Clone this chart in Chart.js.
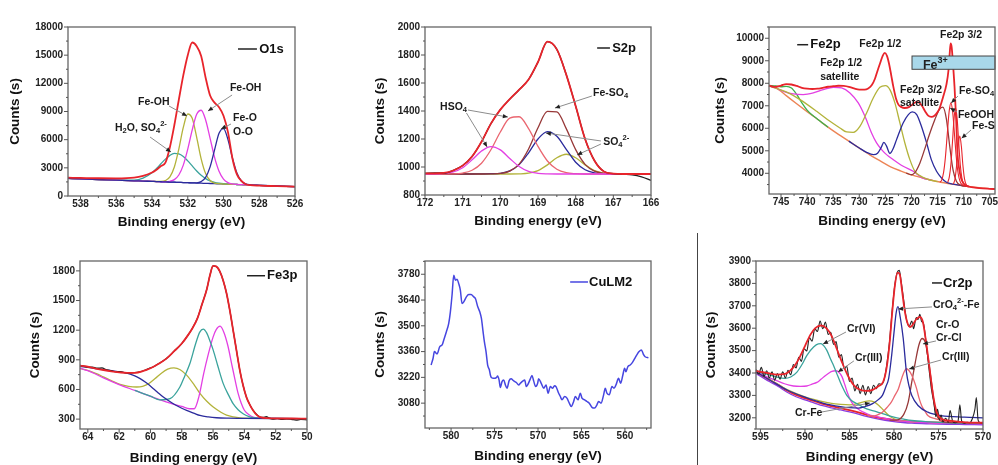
<!DOCTYPE html>
<html><head><meta charset="utf-8">
<script src="https://cdn.jsdelivr.net/npm/chart.js@4.4.1/dist/chart.umd.min.js"></script>
<style>
html,body{margin:0;padding:0;background:#fff}
body{width:998px;height:465px;overflow:hidden;position:relative}
canvas{position:absolute}
#divider{position:absolute;left:697px;top:233px;width:1px;height:232px;background:#444}
</style></head><body>
<canvas id="c1" width="330" height="232" style="left:0px;top:0px"></canvas>
<canvas id="c2" width="340" height="232" style="left:330px;top:0px"></canvas>
<canvas id="c3" width="350" height="232" style="left:660px;top:0px"></canvas>
<canvas id="c4" width="330" height="238" style="left:0px;top:232px"></canvas>
<canvas id="c5" width="340" height="238" style="left:330px;top:232px"></canvas>
<canvas id="c6" width="350" height="238" style="left:660px;top:232px"></canvas>
<div id="divider"></div>
<script>
// ---------------- DATA ----------------
// O1s (shared energy grid)
const o1sE = [538.7,538,537,536,535,534.5,534,533.75,533.5,533.25,533,532.75,532.5,532.25,532,531.75,531.5,531.25,531,530.75,530.5,530.25,530,529.75,529.5,529.25,529,528.75,528.5,528,527,526];
const o1sBase = [1880,1830,1760,1690,1620,1590,1555,1540,1520,1500,1485,1470,1450,1435,1415,1400,1380,1365,1345,1330,1310,1295,1275,1260,1240,1225,1210,1190,1175,1140,1070,1000];
const o1sH2O = [1880,1830,1760,1692,1700,1911,2482,2924,3432,3928,4326,4530,4484,4207,3746,3205,2667,2209,1856,1614,1456,1364,1305,1272,1240,1225,1210,1190,1175,1140,1070,1000];
const o1sFeOH1 = [1880,1830,1760,1690,1620,1590,1555,1545,1548,1644,2040,3083,4995,7303,8734,8275,6249,3962,2388,1648,1382,1308,1275,1260,1240,1225,1210,1190,1175,1140,1070,1000];
const o1sFeOH2 = [1880,1830,1760,1690,1620,1590,1555,1540,1520,1520,1563,1744,2234,3285,4987,7048,8696,9134,8102,6145,4121,2641,1803,1429,1285,1235,1210,1190,1175,1140,1070,1000];
const o1sFeO = [1880,1830,1760,1690,1620,1590,1555,1540,1520,1500,1485,1470,1450,1435,1415,1400,1400,1532,1984,3099,4912,6672,7175,6010,4051,2447,1600,1282,1191,1140,1070,1000];
const o1sFit = [1950,1925,1890,1880,1960,2150,2500,2800,3200,3550,5200,7560,10250,12850,15000,16350,15950,14900,12600,10700,9950,9450,8550,6800,4000,2300,1600,1250,1150,1100,1050,1000];
const o1sXTicks = [538,536,534,532,530,528,526];
const o1sYTicks = [0,3000,6000,9000,12000,15000,18000];

// S2p (shared energy grid)
const s2pE = [172,171.75,171.5,171.25,171,170.75,170.5,170.25,170,169.75,169.5,169.25,169,168.75,168.5,168.25,168,167.75,167.5,167.25,167,166.75,166.5,166.25,166];
const s2pHSO4a = [950,951,954,965,995,1051,1114,1146,1122,1061,1003,968,955,951,950,950,950,950,950,950,950,950,950,950,950];
const s2pHSO4b = [950,950,950,951,957,977,1027,1123,1250,1349,1359,1274,1147,1043,984,959,952,950,950,950,950,950,950,950,950];
const s2pFeSO4 = [950,950,950,950,950,950,950,951,954,971,1021,1129,1280,1397,1394,1274,1124,1019,970,954,950,950,950,950,950];
const s2pSO4a = [950,950,950,950,950,950,951,952,955,972,1017,1101,1200,1253,1219,1126,1034,980,958,952,950,950,950,950,950];
const s2pSO4b = [950,950,950,950,950,950,950,950,950,950,951,956,974,1015,1066,1091,1066,1015,974,956,951,950,950,950,950];
const s2pFit = [955,955,958,975,1010,1075,1180,1310,1410,1485,1552,1625,1750,1895,1840,1660,1435,1200,1045,968,953,950,950,950,950];
const s2pData = [955,958,957,976,1010,1075,1180,1310,1410,1485,1552,1625,1750,1895,1840,1660,1435,1200,1045,968,953,948,944,930,905];
const s2pXTicks = [172,171,170,169,168,167,166];
const s2pYTicks = [800,1000,1200,1400,1600,1800,2000];

// Fe2p [energy, counts]
const fe2pFit = [[747.3,7900],[746.2,7840],[745,7900],[744,7960],[743,7945],[742,7880],[741,7800],[740,7760],[739,7745],[738,7760],[737,7800],[736,7845],[735,7870],[734,7890],[733,7880],[732,7840],[731,7770],[730,7720],[729,7720],[728.3,7770],[727.6,7920],[727,8200],[726.5,8560],[726,8900],[725.5,9230],[725.1,9350],[724.7,9220],[724.3,8870],[723.9,8380],[723.5,7870],[723,7350],[722.5,7050],[722,6950],[721.3,6900],[720.5,6940],[719.8,7060],[719.2,7160],[718.6,7150],[718,7000],[717.4,6760],[716.8,6560],[716.2,6510],[715.6,6560],[715,6720],[714.6,6900],[714,7350],[713.3,7950],[712.9,8600],[712.7,9250],[712.5,9770],[712.3,9600],[712,8700],[711.76,7867],[711.44,6385],[711.19,4904],[710.9,4250],[710.5,3780],[710.1,3570],[709.5,3450],[708.5,3390],[707,3340],[705,3310],[704,3300]];
const fe2pBg = [[747.3,7900],[746,7810],[744,7450],[742,7090],[740,6740],[738,6400],[736,6050],[734,5730],[732,5430],[730,5120],[728,4820],[726,4550],[724,4290],[722,4100],[720,3930],[718,3800],[716,3680],[714,3590],[712,3510],[710,3440],[708,3380],[706,3340],[704,3300]];
const fe2pGreen = [[747.3,7900],[746,7880],[745,7845],[744,7865],[743,7790],[742,7505],[741,7130],[740,6810],[739,6585],[738,6405],[737,6225],[736,6050]];
const fe2pSat12 = [[747.3,7880],[746.15,7793],[744.55,7644],[742.64,7526],[740.73,7496],[738.81,7570],[736.9,7719],[734.98,7822],[733.39,7793],[731.79,7570],[730.2,7126],[728.92,6533],[727.65,5793],[726.69,5348],[725.73,5052],[724.78,4830],[723.5,4607],[721.59,4311],[719.67,4089],[718,3810],[716,3680]];
const fe2p12 = [[747.3,7880],[746.15,7793],[743.5,7560],[741.36,7274],[738.17,6756],[735.62,6311],[733.71,6015],[732.43,5837],[731.16,5822],[729.88,6089],[728.6,6681],[727.33,7348],[726.05,7822],[724.97,7896],[724.14,7719],[723.18,7126],[722.22,6237],[721.27,5348],[720.31,4607],[719.35,4089],[718.4,3896],[717,3745],[715,3630]];
const fe2pSat32 = [[732,5430],[730,5125],[728.6,4930],[727.3,4830],[726.5,4890],[725.8,5150],[725.3,5378],[724.8,5220],[724.14,4880],[723.5,5100],[722.86,5496],[722.2,5900],[721.6,6237],[720.6,6607],[719.86,6726],[719,6607],[718.1,6089],[717.1,5348],[716.2,4607],[715.2,4089],[714.25,3793],[713.3,3600],[712,3515],[710,3445]];
const fe2pBrown = [[721,4010],[720,3935],[719.4,4015],[718.4,4450],[717.5,5050],[716.6,5700],[715.5,6400],[714.7,6820],[714,6940],[713.3,6400],[712.67,5200],[712.04,4150],[711.4,3650],[710.7,3480],[709,3410]];
const fe2pFeSO4 = [[714.55,3600],[714.2,3710],[713.85,4040],[713.5,4720],[713.15,5730],[712.8,6720],[712.45,7130],[712.1,6700],[711.75,5690],[711.4,4670],[711.05,3980],[710.7,3640],[710.35,3500],[709,3410]];
const fe2pFeOOH = [[713.05,3600],[712.75,3840],[712.45,4400],[712.15,5380],[711.85,6420],[711.55,6900],[711.25,6420],[710.95,5360],[710.65,4370],[710.35,3800],[710.05,3560],[709,3410]];
const fe2pFeS = [[711.95,3530],[711.65,3770],[711.35,4370],[711.05,5210],[710.75,5650],[710.45,5210],[710.15,4360],[709.85,3760],[709.55,3510],[709,3410]];
const fe2pXTicks = [745,740,735,730,725,720,715,710,705];
const fe2pYTicks = [4000,5000,6000,7000,8000,9000,10000];

// Fe3p [energy, counts]
const fe3pFit = [[64.5,840],[64.17,835],[63.5,812],[63,797],[62.5,784],[62,774],[61.5,767],[61,768],[60.5,785],[60,815],[59.5,858],[59,910],[58.5,985],[58,1065],[57.6,1150],[57.3,1225],[57,1320],[56.7,1465],[56.4,1615],[56.2,1755],[56,1850],[55.8,1845],[55.57,1795],[55.35,1700],[55.14,1573],[54.93,1400],[54.72,1201],[54.5,990],[54.29,794],[54.08,640],[53.87,523],[53.65,445],[53.44,388],[53.2,340],[53,320],[52.5,310],[51,306],[50,304]];
const fe3pData = [[64.5,845],[64.3,838],[64,828],[63.7,826],[63.4,815],[63.1,818],[62.8,798],[62.5,790],[62.2,778],[61.9,782],[61.6,768],[61.3,766],[61,770],[60.7,778],[60.4,792],[60.1,812],[59.8,830],[59.5,860],[59,910],[58.5,985],[58,1065],[57.6,1150],[57.3,1225],[57,1320],[56.7,1465],[56.4,1615],[56.2,1755],[56,1850],[55.8,1845],[55.57,1795],[55.35,1700],[55.14,1573],[54.93,1400],[54.72,1201],[54.5,990],[54.29,794],[54.08,640],[53.87,523],[53.65,445],[53.44,388],[53.2,345],[53,322],[52.8,318],[52.6,325],[52.4,310],[52.2,300],[51.9,306],[51.6,296],[51.3,303],[51,298],[50.7,290],[50.4,296],[50,292]];
const fe3pBlue = [[64.5,833],[64.17,826],[63.5,812],[62.58,792],[62,778],[61.51,765],[61,738],[60.66,710],[60.2,660],[59.81,608],[59.5,565],[59.18,523],[58.54,456],[58,410],[57.69,388],[57.2,358],[56.84,337],[56.3,322],[55.78,314],[55,310],[54,308],[52,306],[50,305]];
const fe3pOlive = [[64.5,812],[64.17,800],[63.5,762],[63,727],[62.5,690],[61.94,652],[61.4,632],[60.88,625],[60.5,632],[60.1,660],[59.7,710],[59.3,765],[58.9,805],[58.5,818],[58.1,800],[57.69,745],[57.2,645],[56.84,560],[56.4,480],[55.99,422],[55.5,370],[55.14,340],[54.7,322],[54.29,313],[53,308],[50,305]];
const fe3pTeal = [[61,590],[60,532],[59.4,495],[58.75,507],[58.12,625],[57.8,740],[57.48,862],[57.1,1070],[56.85,1180],[56.63,1211],[56.4,1170],[56.2,1090],[55.99,998],[55.7,840],[55.35,659],[55,540],[54.72,456],[54.4,395],[54.08,354],[53.7,325],[53.44,314],[53,310],[50,305]];
const fe3pMagenta = [[64.5,815],[64,790],[63,718],[62,650],[61,590],[60,530],[59,475],[58.5,450],[58,428],[57.5,405],[57.2,405],[56.9,530],[56.6,760],[56.3,960],[56,1130],[55.8,1205],[55.55,1240],[55.3,1175],[55.05,1040],[54.8,850],[54.6,700],[54.4,560],[54.2,460],[54,390],[53.7,345],[53.44,320],[53,310],[50,305]];
const fe3pXTicks = [64,62,60,58,56,54,52,50];
const fe3pYTicks = [300,600,900,1200,1500,1800];

// CuLM2 [energy, counts]
const cuData = [[582.3,3287],[582.07,3324],[581.92,3360],[581.61,3347],[581.3,3387],[581.03,3396],[580.84,3423],[580.54,3468],[580.27,3513],[580.08,3576],[579.89,3666],[579.69,3775],[579.5,3747],[579.31,3753],[579.12,3729],[578.93,3693],[578.74,3621],[578.54,3630],[578.24,3657],[577.97,3670],[577.7,3670],[577.39,3657],[577.2,3648],[576.93,3603],[576.7,3576],[576.51,3540],[576.32,3468],[576.17,3414],[575.98,3360],[575.79,3287],[575.59,3260],[575.48,3233],[575.36,3219],[575.1,3215],[574.79,3219],[574.64,3228],[574.48,3206],[574.33,3165],[574.14,3197],[573.95,3206],[573.75,3179],[573.56,3161],[573.33,3201],[573.1,3212],[572.8,3201],[572.49,3192],[572.22,3179],[572.03,3188],[571.72,3201],[571.53,3206],[571.34,3170],[571.19,3179],[570.88,3212],[570.69,3230],[570.5,3201],[570.27,3170],[570.04,3188],[569.93,3212],[569.6,3185],[569.34,3161],[569.07,3179],[568.84,3134],[568.58,3170],[568.31,3161],[568.1,3175],[567.93,3170],[567.62,3134],[567.43,3116],[567.24,3098],[566.93,3116],[566.67,3107],[566.4,3080],[566.17,3062],[565.9,3089],[565.71,3116],[565.4,3098],[565.13,3134],[564.94,3107],[564.63,3098],[564.37,3089],[564.1,3080],[563.79,3057],[563.49,3053],[563.22,3071],[563.03,3089],[562.75,3080],[562.45,3125],[562.26,3161],[562.07,3134],[561.8,3125],[561.49,3170],[561.26,3161],[561.03,3179],[560.73,3215],[560.5,3188],[560.25,3230],[560.04,3269],[559.89,3251],[559.66,3278],[559.39,3287],[559.15,3300],[558.9,3320],[558.63,3342],[558.37,3360],[558.12,3369],[557.95,3355],[557.87,3345],[557.68,3332],[557.3,3327]];
const cuXTicks = [580,575,570,565,560];
const cuYTicks = [3080,3220,3360,3500,3640,3780];

// Cr2p [energy, counts]
const crData = [[595.5,3415],[595.2,3395],[594.9,3425],[594.6,3385],[594.3,3410],[594,3378],[593.7,3405],[593.4,3368],[593.1,3398],[592.8,3372],[592.5,3405],[592.2,3378],[591.9,3412],[591.6,3392],[591.3,3438],[591,3422],[590.7,3470],[590.4,3452],[590.1,3508],[589.8,3498],[589.5,3558],[589.2,3542],[588.9,3598],[588.6,3585],[588.3,3632],[588,3598],[587.7,3628],[587.4,3572],[587.1,3582],[586.8,3528],[586.5,3540],[586.2,3470],[585.9,3482],[585.6,3418],[585.3,3430],[585,3362],[584.7,3378],[584.4,3320],[584.1,3350],[583.8,3308],[583.5,3345],[583.2,3302],[582.9,3340],[582.6,3308],[582.3,3345],[582,3330],[581.7,3352],[581.4,3350],[581.1,3372],[580.8,3440],[580.5,3540],[580.2,3680],[579.9,3795],[579.6,3852],[579.4,3858],[579.2,3810],[578.9,3722],[578.6,3640],[578.3,3608],[578,3632],[577.8,3598],[577.5,3648],[577.3,3638],[577.1,3662],[576.9,3630],[576.7,3622],[576.4,3538],[576.1,3430],[575.8,3330],[575.5,3262],[575.3,3205],[575.1,3238],[574.9,3190],[574.7,3212],[574.5,3182],[574.2,3198],[573.9,3180],[573.7,3232],[573.4,3184],[573.1,3178],[572.8,3186],[572.6,3258],[572.4,3186],[572.1,3176],[571.8,3180],[571.5,3178],[571.2,3196],[570.9,3240],[570.75,3290],[570.55,3190],[570.3,3178],[570,3176]];
const crFit = [[595.5,3410],[595,3405],[594.25,3400],[593.13,3393],[592.4,3395],[592,3400],[591.3,3425],[590.6,3470],[590,3520],[589.4,3570],[588.84,3600],[588.2,3612],[587.6,3600],[587,3565],[586.4,3505],[585.86,3450],[585.2,3390],[584.5,3345],[583.8,3325],[583.1,3320],[582.4,3325],[581.8,3340],[581.2,3362],[580.8,3430],[580.5,3530],[580.2,3670],[579.9,3790],[579.6,3848],[579.35,3840],[579.1,3770],[578.8,3680],[578.5,3625],[578.2,3605],[577.9,3615],[577.5,3640],[577.1,3650],[576.75,3628],[576.4,3540],[576,3420],[575.6,3300],[575.2,3225],[574.7,3196],[573.5,3186],[572,3180],[570,3178]];
const crCrVI = [[595.5,3410],[595,3402],[594,3392],[593,3380],[592.3,3376],[591.6,3382],[590.9,3404],[590.3,3440],[589.78,3479],[589.03,3516],[588.5,3530],[588.2,3531],[587.9,3522],[587.54,3501],[587.1,3460],[586.79,3434],[586.4,3395],[586.04,3360],[585.6,3322],[585.3,3300],[584.7,3275],[584.18,3263],[583.5,3248],[583.06,3240],[582,3228],[581,3215],[580,3203],[579,3195],[578,3188],[576,3182],[574,3178],[570,3175]];
const crCrIIIa = [[595.5,3410],[595,3398],[594,3378],[593.1,3365],[592.3,3352],[591.3,3342],[590.5,3340],[589.8,3342],[589.2,3350],[588.66,3358],[588.2,3372],[587.72,3388],[587.3,3400],[586.98,3407],[586.6,3410],[586.23,3405],[585.86,3385],[585.5,3345],[585.3,3320],[584.9,3280],[584.55,3258],[584,3238],[583.43,3225],[582.7,3212],[582,3205],[581,3197],[580,3190],[578,3182],[576,3178],[573,3175],[570,3173]];
const crCrFe = [[595.5,3405],[594,3372],[592,3326],[590,3294],[588,3272],[587,3264],[586,3260],[585,3258],[584.2,3262],[583.5,3270],[582.8,3276],[582.2,3270],[581.7,3255],[581.2,3235],[580.7,3215],[580.2,3200],[579.6,3190],[579,3186],[578,3183],[576,3180],[572,3177],[570,3176]];
const crCrO4 = [[595.5,3405],[594,3370],[592,3324],[590,3292],[588,3266],[586,3250],[585,3245],[584,3243],[583.25,3250],[582.4,3263],[581.8,3280],[581.3,3300],[580.9,3340],[580.6,3375],[580.26,3479],[580,3580],[579.75,3670],[579.55,3696],[579.3,3650],[578.96,3554],[578.6,3404],[578.3,3340],[578,3300],[577.3,3255],[576.2,3225],[574.7,3210],[572.1,3203],[570,3200]];
const crCrIIIb = [[583,3212],[582.5,3208],[581.3,3225],[580.7,3250],[580.3,3270],[579.9,3300],[579.5,3330],[579.1,3380],[578.8,3410],[578.6,3419],[578.3,3410],[578,3390],[577.7,3360],[577.46,3330],[577.2,3290],[576.9,3255],[576.5,3228],[576.2,3210],[575.4,3196],[574,3185],[572,3180],[570,3178]];
const crCrO = [[580.5,3190],[579.7,3190],[578.9,3215],[578.4,3270],[578,3360],[577.6,3449],[577.2,3525],[576.85,3554],[576.5,3539],[576.1,3449],[575.7,3330],[575.4,3240],[575,3196],[574.2,3181],[572,3178],[570,3177]];
const crBg = [[595.5,3405],[594,3370],[593,3348],[592,3322],[591,3302],[590,3288],[589,3275],[588,3262],[587,3252],[586,3243],[585,3234],[584,3224],[583,3212],[582,3203],[581,3196],[580,3190],[579,3186],[578,3183],[576,3180],[574,3178],[572,3177],[570,3176]];
const crBg2 = [[595.5,3398],[594,3362],[593,3340],[592,3314],[591,3294],[590,3280],[589,3267],[588,3254],[587,3244],[586,3235],[585,3226],[584,3216],[583,3205],[582,3196],[581,3189],[580,3183],[579,3179],[578,3176],[576,3173],[574,3171],[572,3170],[570,3169]];
const crXTicks = [595,590,585,580,575,570];
const crYTicks = [3200,3300,3400,3500,3600,3700,3800,3900];

// ---------------- HELPERS ----------------
const FONT = '"Liberation Sans", Arial, Helvetica, sans-serif';
Chart.defaults.font.family = FONT;
const onGrid = (E, V) => E.map((e, i) => ({x: e, y: V[i]}));
const fromPairs = P => P.map(([x, y]) => ({x, y}));
function ds(data, color, w) {
  return {data, borderColor: color, borderWidth: w || 1.2, pointRadius: 0, fill: false,
          cubicInterpolationMode: 'monotone', clip: 1};
}
function minorsOf(major, min, max) {
  const lo = Math.min(min, max), hi = Math.max(min, max);
  const st = Math.abs(major[1] - major[0]) / 2;
  const start = Math.min(...major) - 2 * st, end = Math.max(...major) + 2 * st;
  const out = [];
  for (let v = start + st; v <= end; v += 2 * st) if (v >= lo && v <= hi) out.push(+v.toFixed(4));
  return out;
}
function rich(ctx, segs, x, y, size) {
  let cx = x;
  ctx.textBaseline = 'middle'; ctx.textAlign = 'left';
  for (const [s, m] of segs) {
    const fs = m ? size * 0.72 : size;
    ctx.font = 'bold ' + fs + 'px ' + FONT;
    const dy = m === -1 ? size * 0.32 : (m === 1 ? -size * 0.42 : 0);
    ctx.fillText(s, cx, y + dy);
    cx += ctx.measureText(s).width;
  }
}
function arrow(ctx, x1, y1, x2, y2) {
  ctx.strokeStyle = '#8c8c8c'; ctx.lineWidth = 1;
  ctx.beginPath(); ctx.moveTo(x1, y1); ctx.lineTo(x2, y2); ctx.stroke();
  const a = Math.atan2(y2 - y1, x2 - x1), L = 5, W = 2.2;
  ctx.fillStyle = '#222';
  ctx.beginPath(); ctx.moveTo(x2, y2);
  ctx.lineTo(x2 - L * Math.cos(a) + W * Math.sin(a), y2 - L * Math.sin(a) - W * Math.cos(a));
  ctx.lineTo(x2 - L * Math.cos(a) - W * Math.sin(a), y2 - L * Math.sin(a) + W * Math.cos(a));
  ctx.closePath(); ctx.fill();
}

const decor = {
  id: 'decor',
  afterDraw(chart, args, o) {
    const {ctx, chartArea: a} = chart;
    const xs = chart.scales.x, ys = chart.scales.y;
    const X = v => xs.getPixelForValue(v), Y = v => ys.getPixelForValue(v);
    ctx.save();
    (o.boxes || []).forEach(b => {
      const x1 = X(b.x1), x2 = Math.min(X(b.x2), a.right), y1 = Y(b.y1), y2 = Y(b.y2);
      ctx.fillStyle = '#a9d8ea'; ctx.fillRect(x1, y2, x2 - x1, y1 - y2);
      ctx.strokeStyle = '#444'; ctx.lineWidth = 1; ctx.strokeRect(x1, y2, x2 - x1, y1 - y2);
      ctx.fillStyle = '#222';
      rich(ctx, b.t, X(b.tx), Y(b.ty), 12.5);
    });
    ctx.strokeStyle = '#666'; ctx.lineWidth = 1.3;
    ctx.strokeRect(a.left, a.top, a.right - a.left, a.bottom - a.top);
    ctx.strokeStyle = '#555'; ctx.lineWidth = 1;
    ctx.beginPath();
    const tx = (list, len) => list.forEach(v => { const p = X(v); if (p < a.left - 0.5 || p > a.right + 0.5) return; ctx.moveTo(p, a.bottom); ctx.lineTo(p, a.bottom + len); });
    const ty = (list, len) => list.forEach(v => { const p = Y(v); if (p < a.top - 0.5 || p > a.bottom + 0.5) return; ctx.moveTo(a.left, p); ctx.lineTo(a.left - len, p); });
    tx(o.xMajor, 4); tx(minorsOf(o.xMajor, xs.min, xs.max), 2);
    ty(o.yMajor, 4); ty(minorsOf(o.yMajor, ys.min, ys.max), 2);
    ctx.stroke();
    if (o.legend) {
      const L = o.legend;
      ctx.strokeStyle = L.color; ctx.lineWidth = 1.5;
      ctx.beginPath(); ctx.moveTo(X(L.x1), Y(L.y)); ctx.lineTo(X(L.x2), Y(L.y)); ctx.stroke();
      ctx.fillStyle = '#111';
      rich(ctx, [[L.text, 0]], X(L.tx), Y(L.y), 13);
    }
    (o.arrows || []).forEach(r => arrow(ctx, X(r[0]), Y(r[1]), X(r[2]), Y(r[3])));
    ctx.fillStyle = '#1a1a1a';
    (o.labels || []).forEach(l => rich(ctx, l.t, X(l.x), Y(l.y), 10.5));
    ctx.restore();
  }
};

function makeChart(id, cfg) {
  const tickFont = {size: 10, weight: 'bold', lineHeight: 1};
  return new Chart(document.getElementById(id), {
    type: 'line',
    data: {datasets: cfg.datasets},
    options: {
      responsive: false, animation: false, events: [],
      layout: {padding: {top: cfg.padTop, right: cfg.padRight, left: 0, bottom: 0}},
      plugins: {legend: {display: false}, tooltip: {enabled: false}, decor: cfg.decor},
      scales: {
        x: {
          type: 'linear', reverse: true, min: cfg.xMin, max: cfg.xMax,
          afterFit: s => { s.height = cfg.xH; },
          afterBuildTicks: s => { s.ticks = cfg.decor.xMajor.map(v => ({value: v})); },
          ticks: {font: tickFont, color: '#222', padding: 3, maxRotation: 0, autoSkip: false, callback: v => String(v)},
          grid: {display: true, drawOnChartArea: false, drawTicks: false},
          border: {display: false},
          title: {display: true, text: 'Binding energy (eV)', color: '#111',
                  font: {size: 13.5, weight: 'bold', lineHeight: 1.2}, padding: {top: 0, bottom: cfg.xtPad}}
        },
        y: {
          type: 'linear', min: cfg.yMin, max: cfg.yMax,
          afterFit: s => { s.width = cfg.yW; },
          afterBuildTicks: s => { s.ticks = cfg.decor.yMajor.map(v => ({value: v})); },
          ticks: {font: tickFont, color: '#222', padding: 5, autoSkip: false, callback: v => String(v)},
          grid: {display: true, drawOnChartArea: false, drawTicks: false},
          border: {display: false},
          title: {display: true, text: 'Counts (s)', color: '#111',
                  font: {size: 13.5, weight: 'bold', lineHeight: 1.2}, padding: {top: cfg.ytPad, bottom: 0}}
        }
      }
    },
    plugins: [decor]
  });
}

const RED = '#e8242b', TEAL = '#3aa39c', OLIVE = '#b3b33a', MAG = '#e33fe3', NAVY = '#2b2b9c',
      SALMON = '#ea6670', BROWN = '#973838', ORANGE = '#ec8455', GREEN = '#3fb04a', PURPLE = '#8a3be0',
      CUBLUE = '#4646e0', BLACK = '#222';

makeChart('c1', {
  xMin: 526, xMax: 538.7, yMin: 0, yMax: 18000,
  padTop: 27, padRight: 35, yW: 68, xH: 36, xtPad: 1.9, ytPad: 6.9,
  datasets: [
    ds(onGrid(o1sE, o1sFit), RED, 1.8),
    ds(onGrid(o1sE, o1sFeO), NAVY, 1.3),
    ds(onGrid(o1sE, o1sFeOH2), MAG, 1.3),
    ds(onGrid(o1sE, o1sFeOH1), OLIVE, 1.3),
    ds(onGrid(o1sE, o1sH2O), TEAL, 1.3),
    ds(onGrid(o1sE, o1sBase), NAVY, 1.3)
  ],
  decor: {
    xMajor: o1sXTicks, yMajor: o1sYTicks,
    legend: {x1: 529.19, x2: 528.13, y: 15657, tx: 528.0, text: 'O1s', color: BLACK},
    labels: [
      {t: [['Fe-OH', 0]], x: 529.64, y: 11503},
      {t: [['Fe-OH', 0]], x: 534.78, y: 10012},
      {t: [['Fe-O', 0]], x: 529.47, y: 8308},
      {t: [['O-O', 0]], x: 529.47, y: 6816},
      {t: [['H', 0], ['2', -1], ['O, SO', 0], ['4', -1], ['2-', 1]], x: 536.07, y: 7242}
    ],
    arrows: [[529.52, 10757, 530.87, 9053], [533.05, 9586, 532.04, 8521], [529.58, 7669, 530.14, 7136], [534.11, 6284, 532.94, 4686]]
  }
});

makeChart('c2', {
  xMin: 166, xMax: 172, yMin: 800, yMax: 2000,
  padTop: 27, padRight: 19, yW: 95, xH: 37, xtPad: 2.2, ytPad: 41.9,
  datasets: [
    ds(onGrid(s2pE, s2pFit), RED, 1.8),
    ds(onGrid(s2pE, s2pData), BLACK, 1.3),
    ds(onGrid(s2pE, s2pHSO4a), MAG, 1.3),
    ds(onGrid(s2pE, s2pHSO4b), SALMON, 1.3),
    ds(onGrid(s2pE, s2pFeSO4), BROWN, 1.3),
    ds(onGrid(s2pE, s2pSO4a), NAVY, 1.3),
    ds(onGrid(s2pE, s2pSO4b), OLIVE, 1.3)
  ],
  decor: {
    xMajor: s2pXTicks, yMajor: s2pYTicks,
    legend: {x1: 167.43, x2: 167.09, y: 1850, tx: 167.03, text: 'S2p', color: BLACK},
    labels: [
      {t: [['HSO', 0], ['4', -1]], x: 171.6, y: 1429},
      {t: [['Fe-SO', 0], ['4', -1]], x: 167.54, y: 1529},
      {t: [['SO', 0], ['4', -1], ['2-', 1]], x: 167.27, y: 1179}
    ],
    arrows: [[170.86, 1407, 169.8, 1357], [170.9, 1386, 170.35, 1143], [167.57, 1507, 168.55, 1421], [167.33, 1186, 168.79, 1243], [167.33, 1164, 167.96, 1086]]
  }
});

makeChart('c3', {
  xMin: 704, xMax: 747.3, yMin: 3080, yMax: 10500,
  padTop: 27, padRight: 15, yW: 109, xH: 38, xtPad: 2.2, ytPad: 51.9,
  datasets: [
    ds(fromPairs(fe2pFit), RED, 1.8),
    ds(fromPairs(fe2pFeSO4), RED, 1.1),
    ds(fromPairs(fe2pFeOOH), RED, 1.1),
    ds(fromPairs(fe2pFeS), RED, 1.1),
    ds(fromPairs(fe2pBrown), BROWN, 1.3),
    ds(fromPairs(fe2pSat32), NAVY, 1.3),
    ds(fromPairs(fe2p12), OLIVE, 1.3),
    ds(fromPairs(fe2pSat12), MAG, 1.3),
    ds(fromPairs(fe2pGreen), GREEN, 1.3),
    ds(fromPairs(fe2pBg), ORANGE, 1.4)
  ],
  decor: {
    xMajor: fe2pXTicks, yMajor: fe2pYTicks,
    legend: {x1: 741.9, x2: 739.8, y: 9713, tx: 739.4, text: 'Fe2p', color: BLACK},
    boxes: [{x1: 719.9, x2: 704, y1: 8621, y2: 9211, t: [['Fe', 0], ['3+', 1]], tx: 717.8, ty: 8790}],
    labels: [
      {t: [['Fe2p 1/2', 0]], x: 730.0, y: 9731},
      {t: [['Fe2p 1/2', 0]], x: 737.5, y: 8900},
      {t: [['satellite', 0]], x: 737.5, y: 8278},
      {t: [['Fe2p 3/2', 0]], x: 714.54, y: 10144},
      {t: [['Fe2p 3/2', 0]], x: 722.2, y: 7700},
      {t: [['satellite', 0]], x: 722.2, y: 7123},
      {t: [['Fe-SO', 0], ['4', -1]], x: 710.9, y: 7656},
      {t: [['FeOOH', 0]], x: 711.1, y: 6590},
      {t: [['Fe-S', 0]], x: 708.4, y: 6101}
    ],
    arrows: [[711.1, 7434, 712.4, 7123], [711.28, 6723, 712.6, 6901], [708.6, 5923, 710.4, 5555]]
  }
});

makeChart('c4', {
  xMin: 50, xMax: 64.5, yMin: 200, yMax: 1900,
  padTop: 29, padRight: 23, yW: 80, xH: 41, xtPad: 3.6, ytPad: 26.9,
  datasets: [
    ds(fromPairs(fe3pFit), RED, 1.8),
    ds(fromPairs(fe3pData), BLACK, 1.2),
    ds(fromPairs(fe3pBlue), NAVY, 1.3),
    ds(fromPairs(fe3pTeal), TEAL, 1.3),
    ds(fromPairs(fe3pMagenta), MAG, 1.3),
    ds(fromPairs(fe3pOlive), OLIVE, 1.3)
  ],
  decor: {
    xMajor: fe3pXTicks, yMajor: fe3pYTicks,
    legend: {x1: 53.83, x2: 52.68, y: 1751, tx: 52.55, text: 'Fe3p', color: BLACK}
  }
});

makeChart('c5', {
  xMin: 557, xMax: 583, yMin: 2945, yMax: 3852,
  padTop: 29, padRight: 19, yW: 95, xH: 42, xtPad: 5.2, ytPad: 41.9,
  datasets: [ds(fromPairs(cuData), CUBLUE, 1.5)],
  decor: {
    xMajor: cuXTicks, yMajor: cuYTicks,
    legend: {x1: 566.3, x2: 564.25, y: 3738, tx: 564.13, text: 'CuLM2', color: CUBLUE}
  }
});

makeChart('c6', {
  xMin: 570, xMax: 595.5, yMin: 3150, yMax: 3900,
  padTop: 29, padRight: 27, yW: 96, xH: 41, xtPad: 4.2, ytPad: 43.6,
  datasets: [
    ds(fromPairs(crFit), RED, 1.8),
    ds(fromPairs(crData), BLACK, 1.1),
    ds(fromPairs(crCrO4), NAVY, 1.3),
    ds(fromPairs(crCrIIIb), SALMON, 1.3),
    ds(fromPairs(crCrO), BROWN, 1.3),
    ds(fromPairs(crCrVI), TEAL, 1.3),
    ds(fromPairs(crCrIIIa), MAG, 1.3),
    ds(fromPairs(crCrFe), OLIVE, 1.3),
    ds(fromPairs(crBg), RED, 1.8),
    ds(fromPairs(crBg2), PURPLE, 1.3)
  ],
  decor: {
    xMajor: crXTicks, yMajor: crYTicks,
    legend: {x1: 575.73, x2: 574.6, y: 3802, tx: 574.5, text: 'Cr2p', color: BLACK},
    labels: [
      {t: [['CrO', 0], ['4', -1], ['2-', 1], ['-Fe', 0]], x: 575.62, y: 3704},
      {t: [['Cr-O', 0]], x: 575.28, y: 3614},
      {t: [['Cr-Cl', 0]], x: 575.28, y: 3556},
      {t: [['Cr(III)', 0]], x: 574.6, y: 3471},
      {t: [['Cr(VI)', 0]], x: 585.28, y: 3596},
      {t: [['Cr(III)', 0]], x: 584.38, y: 3467},
      {t: [['Cr-Fe', 0]], x: 591.12, y: 3221}
    ],
    arrows: [[575.73, 3695, 579.55, 3686], [575.28, 3543, 576.75, 3530], [574.72, 3458, 578.31, 3418], [585.39, 3583, 587.97, 3529], [584.5, 3454, 586.29, 3404], [588.09, 3226, 582.69, 3266]]
  }
});
</script>
</body></html>
